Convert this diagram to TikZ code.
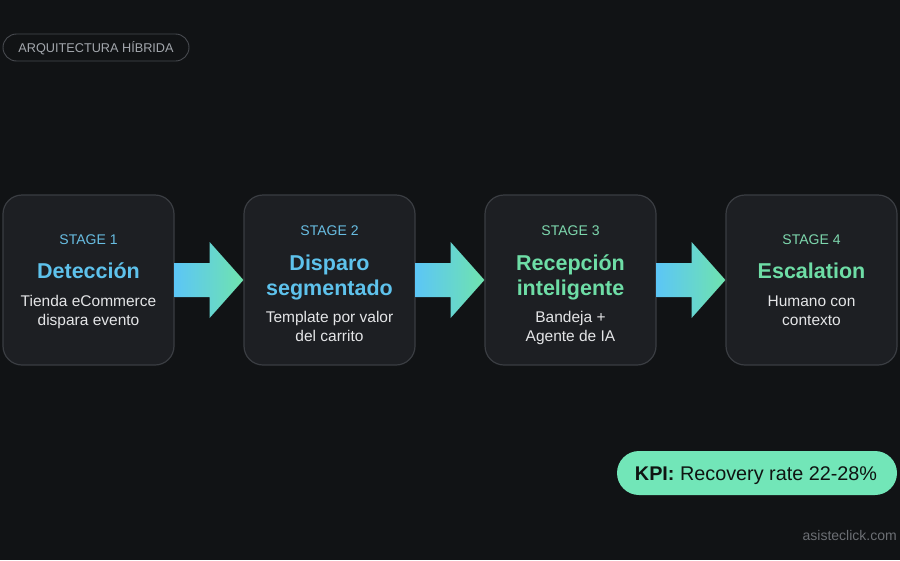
\documentclass[tikz,border=0pt]{standalone}
\usepackage{fontspec}
\setmainfont{Liberation Sans}
\usetikzlibrary{calc}
\definecolor{bg}{HTML}{111315}
\definecolor{boxfill}{HTML}{1D1F23}
\definecolor{boxline}{HTML}{3A3D42}
\definecolor{pillline}{HTML}{46494E}
\definecolor{pilltext}{HTML}{A3A7AD}
\definecolor{blueA}{HTML}{68BDE2}
\definecolor{blueT}{HTML}{5EC2EC}
\definecolor{greenA}{HTML}{7ED8AE}
\definecolor{greenT}{HTML}{6EDDA6}
\definecolor{bodytxt}{HTML}{E4E5E7}
\definecolor{arrL}{HTML}{5CC6F6}
\definecolor{arrR}{HTML}{6FE3AE}
\definecolor{kpifill}{HTML}{72E6B8}
\definecolor{kpitext}{HTML}{0F1412}
\definecolor{wm}{HTML}{6C6F74}
\newcommand{\flowarrow}[2]{%
  \shade[left color=arrL,right color=arrR]
    ($(#1.east)+(0,-17)$) -- ($(#1.east)+(35,-17)$) -- ($(#1.east)+(35,-38)$)
    -- (#2.west) -- ($(#1.east)+(35,38)$) -- ($(#1.east)+(35,17)$)
    -- ($(#1.east)+(0,17)$) -- cycle;}
\begin{document}
\begin{tikzpicture}[x=1pt,y=-1pt,
  stagebox/.style={draw=boxline,fill=boxfill,line width=1.2pt,rounded corners=19pt,
    minimum width=171pt,minimum height=170pt,inner sep=0pt},
  lab/.style={anchor=base,inner sep=0pt,font=\fontsize{14}{16}\selectfont},
  ttl/.style={anchor=base,inner sep=0pt,font=\fontsize{21.5}{25}\selectfont\bfseries},
  bod/.style={anchor=base,inner sep=0pt,text=bodytxt,font=\fontsize{15.5}{19}\selectfont}]
\fill[bg] (0,0) rectangle (900,560);
\useasboundingbox (0,0) rectangle (900,560);

% header pill
\node[draw=pillline,line width=0.9pt,rounded corners=13.5pt,minimum width=186pt,minimum height=27pt,inner sep=0pt] (hdr) at (96,47.5) {};
\node[anchor=base,inner sep=0pt,text=pilltext,font=\fontsize{12.7}{14}\selectfont] (hdrt) at (96,52.5) {ARQUITECTURA HÍBRIDA};

% boxes
\node[stagebox] (b1) at (88.5,280) {};
\node[stagebox] (b2) at (329.5,280) {};
\node[stagebox] (b3) at (570.5,280) {};
\node[stagebox] (b4) at (811.5,280) {};

% arrows
\flowarrow{b1}{b2}
\flowarrow{b2}{b3}
\flowarrow{b3}{b4}

% box 1
\node[lab,text=blueA] (s1) at (88.5,244.5) {STAGE 1};
\node[ttl,text=blueT] (t1) at (88.5,278.5) {Detección};
\node[bod] (d1a) at (88.5,306.5) {Tienda eCommerce};
\node[bod] (d1b) at (88.5,325.5) {dispara evento};

% box 2
\node[lab,text=blueA] (s2) at (329.5,235.5) {STAGE 2};
\node[ttl,text=blueT] (t2a) at (329.5,270) {Disparo};
\node[ttl,text=blueT] (t2b) at (329.5,295) {segmentado};
\node[bod] (d2a) at (329.5,322) {Template por valor};
\node[bod] (d2b) at (329.5,341.5) {del carrito};

% box 3
\node[lab,text=greenA] (s3) at (570.5,235.5) {STAGE 3};
\node[ttl,text=greenT] (t3a) at (570.5,270) {Recepción};
\node[ttl,text=greenT] (t3b) at (570.5,295) {inteligente};
\node[bod] (d3a) at (570.5,322) {Bandeja +};
\node[bod] (d3b) at (570.5,341.5) {Agente de IA};

% box 4
\node[lab,text=greenA] (s4) at (811.5,244.5) {STAGE 4};
\node[ttl,text=greenT] (t4) at (811.5,278.5) {Escalation};
\node[bod] (d4a) at (811.5,306.5) {Humano con};
\node[bod] (d4b) at (811.5,325.5) {contexto};

% KPI pill
\node[fill=kpifill,rounded corners=22pt,minimum width=280pt,minimum height=44pt,inner sep=0pt] (kpi) at (757,473) {};
\node[anchor=base,inner sep=0pt,text=kpitext,font=\fontsize{19.8}{22}\selectfont] (kpit) at (756,480) {\textbf{KPI:} Recovery rate 22-28\%};

% watermark
\node[anchor=base east,inner sep=0pt,text=wm,font=\fontsize{14}{15}\selectfont] (wmk) at (897,540) {asisteclick.com};
\end{tikzpicture}
\end{document}
